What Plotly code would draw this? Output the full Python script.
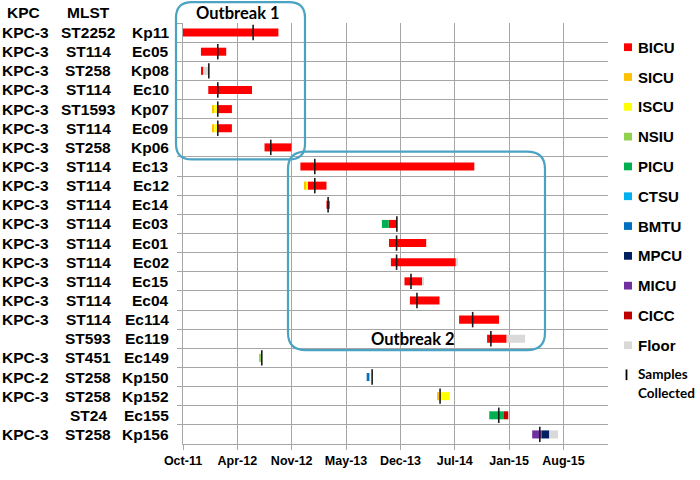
import pandas as pd
import plotly.graph_objects as go

# ---------------- data ----------------
isolates = ["Kp11", "Ec05", "Kp08", "Ec10", "Kp07", "Ec09", "Kp06", "Ec13", "Ec12", "Ec14",
            "Ec03", "Ec01", "Ec02", "Ec15", "Ec04", "Ec114", "Ec119", "Ec149", "Kp150",
            "Kp152", "Ec155", "Kp156"]
kpc_types = ["KPC-3"] * 16 + ["", "KPC-3", "KPC-2", "KPC-3", "", "KPC-3"]
mlst_types = ["ST2252", "ST114", "ST258", "ST114", "ST1593", "ST114", "ST258", "ST114", "ST114",
              "ST114", "ST114", "ST114", "ST114", "ST114", "ST114", "ST114", "ST593", "ST451",
              "ST258", "ST258", "ST24", "ST258"]

units = ["BICU", "SICU", "ISCU", "NSIU", "PICU", "CTSU", "BMTU", "MPCU", "MICU", "CICC", "Floor"]
unit_colors = ["#FF0000", "#FFC000", "#FFFF00", "#92D050", "#00B050", "#00B0F0", "#0070C0",
               "#002060", "#7030A0", "#C00000", "#D9D9D9"]

seg_isolate = ["Kp11", "Ec05", "Kp08", "Kp08", "Ec10",
               "Kp07", "Kp07", "Kp07", "Ec09", "Ec09", "Ec09",
               "Kp06", "Ec13", "Ec12", "Ec12", "Ec12", "Ec14",
               "Ec03", "Ec03", "Ec01", "Ec02", "Ec02", "Ec15", "Ec15",
               "Ec04", "Ec114", "Ec119", "Ec119", "Ec149", "Kp150",
               "Kp152", "Kp152", "Ec155", "Ec155", "Kp156", "Kp156", "Kp156"]
seg_unit = ["BICU", "BICU", "BICU", "Floor", "BICU",
            "SICU", "ISCU", "BICU", "SICU", "ISCU", "BICU",
            "BICU", "BICU", "SICU", "ISCU", "BICU", "BICU",
            "PICU", "BICU", "BICU", "BICU", "Floor", "BICU", "Floor",
            "BICU", "BICU", "BICU", "Floor", "NSIU", "BMTU",
            "SICU", "ISCU", "PICU", "CICC", "MICU", "MPCU", "Floor"]
seg_start = ["2011-10-08", "2011-12-13", "2011-12-16", "2011-12-22", "2012-01-09",
             "2012-01-24", "2012-01-31", "2012-02-10", "2012-01-24", "2012-01-31", "2012-02-10",
             "2012-08-03", "2012-12-13", "2012-12-28", "2013-01-03", "2013-01-10", "2013-03-19",
             "2013-10-09", "2013-11-03", "2013-11-04", "2013-11-11", "2014-07-08", "2013-12-31", "2014-03-06",
             "2014-01-20", "2014-07-20", "2014-10-31", "2015-01-11", "2012-07-14", "2013-08-14",
             "2014-04-30", "2014-05-08", "2014-11-08", "2015-01-01", "2015-04-15", "2015-05-19", "2015-06-17"]
seg_end = ["2012-09-23", "2012-03-15", "2011-12-22", "2012-01-08", "2012-06-18",
           "2012-01-31", "2012-02-10", "2012-04-05", "2012-01-31", "2012-02-10", "2012-04-05",
           "2012-11-10", "2014-09-14", "2013-01-03", "2013-01-10", "2013-03-19", "2013-03-31",
           "2013-11-03", "2013-12-04", "2014-03-21", "2014-07-08", "2014-07-16", "2014-03-06", "2014-03-13",
           "2014-05-09", "2014-12-14", "2015-01-11", "2015-03-20", "2012-07-22", "2013-08-24",
           "2014-05-08", "2014-06-16", "2015-01-01", "2015-01-17", "2015-05-19", "2015-06-17", "2015-07-19"]

sample_isolate = isolates[:]
sample_date = ["2012-06-22", "2012-02-13", "2012-01-11", "2012-02-13", "2012-02-13", "2012-02-13",
               "2012-08-26", "2013-02-04", "2013-02-04", "2013-03-25", "2013-12-03", "2013-12-02",
               "2013-12-02", "2014-01-24", "2014-02-15", "2014-09-08", "2014-11-14", "2012-07-24",
               "2013-09-03", "2014-05-11", "2014-12-13", "2015-05-13"]

tick_start = "2011-10-08"
tick_step_days = 200
n_ticks = 8
x_end = "2016-01-19"

# ---------------- layout helpers ----------------
W, H = 700, 480
L, R, T, B = 183, 92, 23, 22
PW, PH = W - L - R, H - T - B


def px2x(p):
    return (p - L) / PW


def py2y(p):
    return (H - B - p) / PH


GRID = "#A6A6A6"
BOLD = dict(family="Liberation Sans, Arial, sans-serif", color="#000000", weight="bold")

fig = go.Figure()

# unit stay bars
for u, c in zip(units, unit_colors):
    idx = [i for i, v in enumerate(seg_unit) if v == u]
    if not idx:
        continue
    s = pd.to_datetime([seg_start[i] for i in idx])
    e = pd.to_datetime([seg_end[i] for i in idx])
    dur = [(b - a).total_seconds() * 1000.0 for a, b in zip(s, e)]
    fig.add_trace(go.Bar(
        orientation="h", name=u,
        y=[seg_isolate[i] for i in idx],
        base=[seg_start[i] for i in idx],
        x=dur, width=0.42,
        marker=dict(color=c, line=dict(width=0)),
        showlegend=False, hoverinfo="skip"))

# sample collection marks
fig.add_trace(go.Scatter(
    x=sample_date, y=sample_isolate, mode="markers",
    marker=dict(symbol="line-ns", size=11, line=dict(width=1.6, color="#1a1a1a")),
    showlegend=False, hoverinfo="skip"))

tickvals = pd.date_range(tick_start, periods=n_ticks, freq=f"{tick_step_days}D")

fig.update_layout(
    width=W, height=H,
    margin=dict(l=L, r=R, t=T, b=B),
    paper_bgcolor="white", plot_bgcolor="white",
    barmode="overlay",
    showlegend=False,
    xaxis=dict(type="date", range=[tick_start, x_end],
               tickvals=list(tickvals), tickformat="%b-%y",
               showgrid=True, gridcolor=GRID, gridwidth=1.3,
               ticks="outside", ticklen=5, tickcolor=GRID, tickwidth=1.3,
               showline=True, linecolor=GRID, linewidth=1.3,
               zeroline=False,
               tickfont=dict(size=12.5, **BOLD)),
    yaxis=dict(type="category", categoryorder="array", categoryarray=isolates,
               range=[len(isolates) - 0.5, -0.5],
               tickson="boundaries", showgrid=True, gridcolor=GRID, gridwidth=1.3,
               ticks="outside", ticklen=5, tickcolor=GRID, tickwidth=1.3,
               showticklabels=False,
               showline=True, linecolor=GRID, linewidth=1.3, zeroline=False),
)

annotations = []
LBL = dict(size=15.5, **BOLD)
annotations.append(dict(text="KPC", x=px2x(23), y=py2y(12), xref="paper", yref="paper",
                        xanchor="center", yanchor="middle", showarrow=False, font=LBL))
annotations.append(dict(text="MLST", x=px2x(88), y=py2y(12), xref="paper", yref="paper",
                        xanchor="center", yanchor="middle", showarrow=False, font=LBL))
for iso, k, m in zip(isolates, kpc_types, mlst_types):
    if k:
        annotations.append(dict(text=k, x=px2x(0), y=iso, xref="paper", yref="y",
                                xanchor="left", yanchor="middle", showarrow=False, font=LBL))
    annotations.append(dict(text=m, x=px2x(88), y=iso, xref="paper", yref="y",
                            xanchor="center", yanchor="middle", showarrow=False, font=LBL))
    annotations.append(dict(text=iso, x=px2x(171), y=iso, xref="paper", yref="y",
                            xanchor="right", yanchor="middle", showarrow=False, font=LBL))

# outbreak boxes
OUT = "#4BA3C3"


def rounded(x0, y0, x1, y1, r):
    X, Y = px2x, py2y
    return (f"M {X(x0 + r)},{Y(y0)} L {X(x1 - r)},{Y(y0)} Q {X(x1)},{Y(y0)} {X(x1)},{Y(y0 + r)} "
            f"L {X(x1)},{Y(y1 - r)} Q {X(x1)},{Y(y1)} {X(x1 - r)},{Y(y1)} "
            f"L {X(x0 + r)},{Y(y1)} Q {X(x0)},{Y(y1)} {X(x0)},{Y(y1 - r)} "
            f"L {X(x0)},{Y(y0 + r)} Q {X(x0)},{Y(y0)} {X(x0 + r)},{Y(y0)} Z")


shapes = [
    dict(type="path", path=rounded(176, 1.5, 305, 164, 16), xref="paper", yref="paper",
         line=dict(color=OUT, width=2.2)),
    dict(type="path", path=rounded(288, 156, 545, 361, 18), xref="paper", yref="paper",
         line=dict(color=OUT, width=2.2)),
]
OBF = dict(family="Lato, sans-serif", size=16.5, color="#000000", weight="bold")
annotations.append(dict(text="Outbreak 1", x=px2x(238), y=py2y(13), xref="paper", yref="paper",
                        xanchor="center", yanchor="middle", showarrow=False, font=OBF))
annotations.append(dict(text="Outbreak 2", x=px2x(413), y=py2y(349), xref="paper", yref="paper",
                        xanchor="center", yanchor="middle", showarrow=False, font=OBF))

# manual legend
for i, (u, c) in enumerate(zip(units, unit_colors)):
    yc = 48 + i * 30.8
    shapes.append(dict(type="rect", xref="paper", yref="paper",
                       x0=px2x(624), x1=px2x(632), y0=py2y(yc + 4), y1=py2y(yc - 4),
                       fillcolor=c, line=dict(width=0)))
    annotations.append(dict(text=u, x=px2x(636), y=py2y(yc), xref="paper", yref="paper",
                            xanchor="left", yanchor="middle", showarrow=False,
                            font=dict(size=15, **BOLD)))
shapes.append(dict(type="line", xref="paper", yref="paper",
                   x0=px2x(626.5), x1=px2x(626.5), y0=py2y(381), y1=py2y(392),
                   line=dict(color="#000000", width=1.8)))
SMF = dict(family="Lato, sans-serif", size=13.5, color="#000000", weight="bold")
annotations.append(dict(text="Samples", x=px2x(636), y=py2y(386), xref="paper", yref="paper",
                        xanchor="left", yanchor="middle", showarrow=False, font=SMF))
annotations.append(dict(text="Collected", x=px2x(636), y=py2y(405), xref="paper", yref="paper",
                        xanchor="left", yanchor="middle", showarrow=False, font=SMF))

fig.update_layout(annotations=annotations, shapes=shapes)
fig.write_html("out.html", config={"displayModeBar": False},
               post_script="document.body.style.margin='0px';document.body.style.overflow='hidden';")
